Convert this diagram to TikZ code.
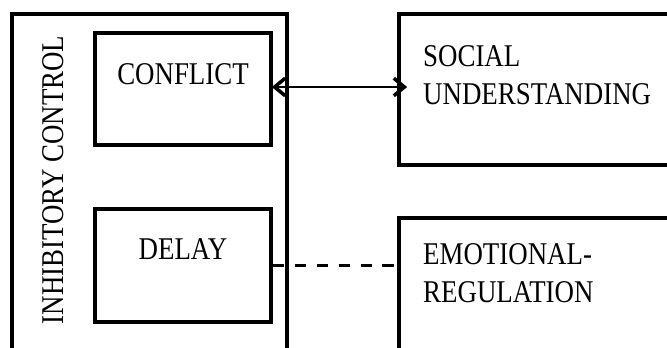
\documentclass[tikz,border=0pt]{standalone}
\usepackage{fontspec}
\setmainfont{Liberation Serif}[FakeStretch=0.85]
\usetikzlibrary{arrows.meta}
\definecolor{chartink}{HTML}{000000}

\begin{document}
\begin{tikzpicture}[x=0.03cm, y=-0.03cm,
                    every node/.style={chartink, font=\fontsize{27}{32.4}\selectfont},
                    box/.style={draw=chartink, line width=3.2pt, inner sep=0pt}]

  %% ---- 畫布範圍 (右邊與下邊的框被裁掉) ----
  \useasboundingbox (0,0) rectangle (667,348);
  \clip (0,0) rectangle (667,348);

  %% ---- 左面板: 抑制控制的外框與兩個子框 ----
  \node[box, minimum width=8.25cm, minimum height=10.68cm] (inhibit) at (149.5,192) {};
  \node[rotate=90, anchor=base] (inhibittext) at (63,180) {INHIBITORY CONTROL};

  \node[box, minimum width=5.28cm, minimum height=3.36cm] (conflict) at (183,89) {};
  \node[anchor=base] (conflicttext) at (183,85) {CONFLICT};

  \node[box, minimum width=5.28cm, minimum height=3.39cm] (delay) at (183,265.5) {};
  \node[anchor=base] (delaytext) at (183,260) {DELAY};

  %% ---- 右面板: 兩個結果框 ----
  \node[box, minimum width=9.03cm, minimum height=4.53cm] (social) at (549.5,89.5) {};
  \node[anchor=north west, align=left, inner sep=0pt] (socialtext) at (423,45)
    {SOCIAL\\UNDERSTANDING};

  \node[box, minimum width=9.03cm, minimum height=4.56cm] (emotion) at (549.5,294) {};
  \node[anchor=north west, align=left, inner sep=0pt] (emotiontext) at (423,243)
    {EMOTIONAL-\\REGULATION};

  %% ---- 連線: 雙向箭號與虛線 ----
  \draw[chartink, line width=2.3pt, shorten <=-0.03cm, shorten >=-0.3cm,
        {Straight Barb[length=9pt, width=15pt, line width=3pt]}-{Straight Barb[length=9pt, width=15pt, line width=3pt]}]
    ([yshift=0.06cm]conflict.east) -- ([yshift=0.06cm]conflict.east -| social.west);
  \draw[chartink, line width=2pt, dash pattern=on 9.8pt off 8.9pt]
    (delay.east) -- (delay.east -| emotion.west);

\end{tikzpicture}
\end{document}
